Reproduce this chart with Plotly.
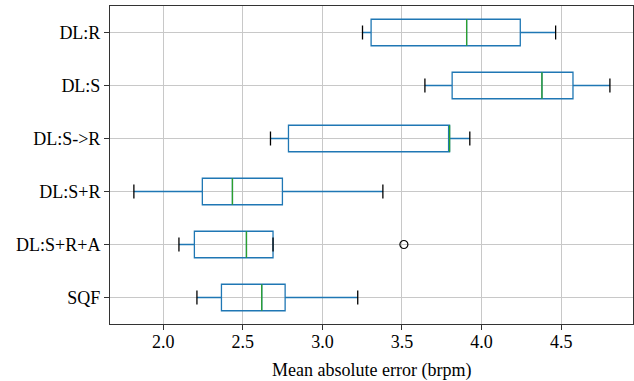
import plotly.graph_objects as go

categories = ["DL:R", "DL:S", "DL:S->R", "DL:S+R", "DL:S+R+A", "SQF"]
lower_whisker = [3.252, 3.644, 2.674, 1.816, 2.099, 2.212]
q1 = [3.306, 3.815, 2.787, 2.246, 2.196, 2.366]
median = [3.906, 4.379, 3.799, 2.435, 2.523, 2.619]
q3 = [4.243, 4.574, 3.799, 2.749, 2.690, 2.766]
upper_whisker = [4.465, 4.806, 3.926, 3.380, 2.690, 3.222]
outlier_cat = ["DL:S+R+A"]
outlier_val = [3.512]
x_ticks = [2.0, 2.5, 3.0, 3.5, 4.0, 4.5]
x_label = "Mean absolute error (brpm)"

BLUE = "#1f77b4"
GREEN = "#2ca02c"
FONT = "Liberation Serif"

fig = go.Figure()
fig.add_trace(go.Box(
    y=categories, q1=q1, median=median, q3=q3,
    lowerfence=lower_whisker, upperfence=upper_whisker,
    orientation="h", width=0.5, whiskerwidth=0,
    line=dict(color=BLUE, width=1.3), fillcolor="rgba(0,0,0,0)",
    showlegend=False, hoverinfo="skip", boxpoints=False,
))
# medians
fig.add_trace(go.Scatter(
    x=median, y=categories, mode="markers",
    marker=dict(symbol="line-ns", size=19, line=dict(color=GREEN, width=1.3)),
    showlegend=False, hoverinfo="skip",
))
# whisker caps
fig.add_trace(go.Scatter(
    x=lower_whisker + upper_whisker, y=categories + categories, mode="markers",
    marker=dict(symbol="line-ns", size=10, line=dict(color="black", width=1.3)),
    showlegend=False, hoverinfo="skip",
))
# outliers
fig.add_trace(go.Scatter(
    x=outlier_val, y=outlier_cat, mode="markers",
    marker=dict(symbol="circle-open", size=8, color="black", line=dict(color="black", width=1.2)),
    showlegend=False, hoverinfo="skip",
))

fig.update_layout(
    width=634, height=381,
    margin=dict(l=110, r=1, t=6, b=57),
    paper_bgcolor="white", plot_bgcolor="white",
    font=dict(family=FONT, size=18, color="black"),
    annotations=[dict(
        text=x_label, xref="paper", yref="paper", x=0.5, y=0,
        xanchor="center", yanchor="middle", yshift=-46, showarrow=False,
        font=dict(family=FONT, size=18, color="black"),
    )],
)
fig.update_xaxes(
    range=[1.666, 4.951], tickvals=x_ticks, ticktext=[f"{v:.1f}" for v in x_ticks],
    showgrid=True, gridcolor="#c8c8c8", gridwidth=1,
    showline=True, linecolor="#333333", linewidth=1, mirror=True,
    ticks="outside", ticklen=5, tickcolor="#333333", zeroline=False,
    tickfont=dict(size=18), automargin=False, ticklabelstandoff=-4,
)
fig.update_yaxes(
    type="category", categoryorder="array", categoryarray=categories[::-1],
    range=[-0.5, 5.5],
    showgrid=True, gridcolor="#c8c8c8", gridwidth=1,
    showline=True, linecolor="#333333", linewidth=1, mirror=True,
    ticks="outside", ticklen=5, tickcolor="#333333", zeroline=False,
    tickfont=dict(size=18), automargin=False,
)

fig.write_html(
    "out.html",
    config={"displayModeBar": False, "staticPlot": True},
    post_script="document.body.style.margin='0';document.body.style.overflow='hidden';",
)
